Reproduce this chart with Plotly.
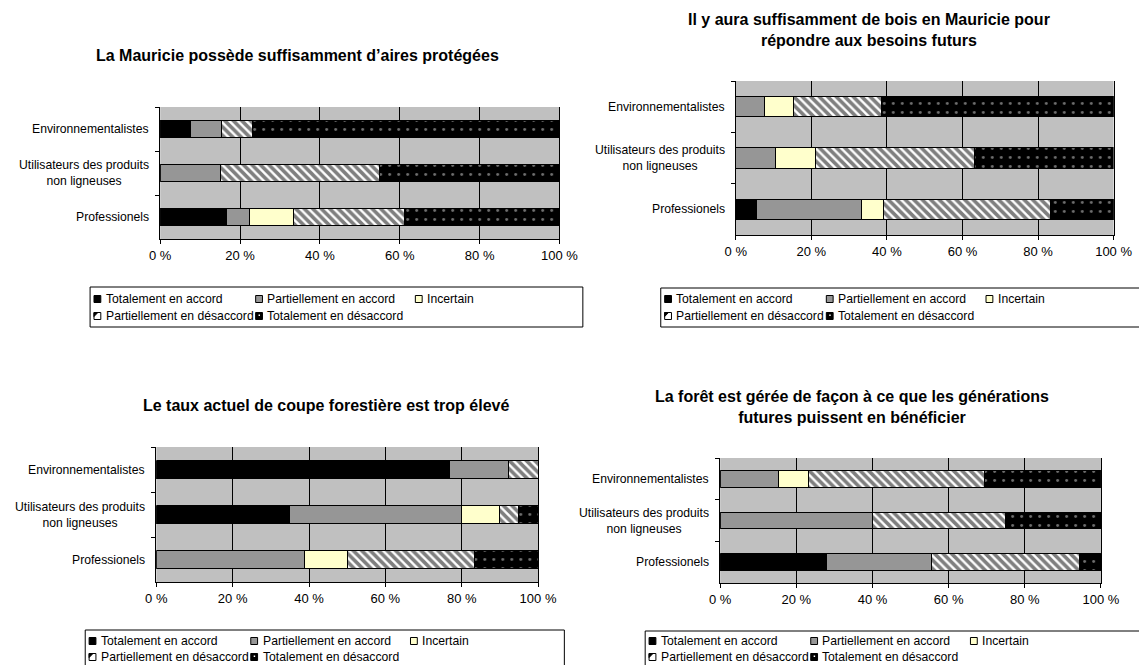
import plotly.graph_objects as go

W, H = 1147, 665
PAGE_OFFSET = 8  # the browser's default body margin shifts the figure by 8 px
FONT = "Liberation Sans, Arial, sans-serif"

# ---------------- data ----------------
categories = ["Environnementalistes", "Utilisateurs des produits<br>non ligneuses", "Professionels"]
series_names = ["Totalement en accord", "Partiellement en accord", "Incertain",
                "Partiellement en désaccord", "Totalement en désaccord"]
x_tick_values = [0, 20, 40, 60, 80, 100]
x_tick_labels = ["0 %", "20 %", "40 %", "60 %", "80 %", "100 %"]

titles = [
    "La Mauricie possède suffisamment d’aires protégées",
    "Il y aura suffisamment de bois en Mauricie pour<br>répondre aux besoins futurs",
    "Le taux actuel de coupe forestière est trop élevé",
    "La forêt est gérée de façon à ce que les générations<br>futures puissent en bénéficier",
]

# values in % for [Environnementalistes, Utilisateurs, Professionels]
aires_tot_accord = [7.7, 0.0, 16.7]
aires_part_accord = [7.7, 15.0, 5.6]
aires_incertain = [0.0, 0.0, 11.1]
aires_part_desaccord = [7.7, 40.0, 27.8]
aires_tot_desaccord = [76.9, 45.0, 38.9]

bois_tot_accord = [0.0, 0.0, 5.6]
bois_part_accord = [7.7, 10.5, 27.8]
bois_incertain = [7.7, 10.5, 5.6]
bois_part_desaccord = [23.1, 42.1, 44.4]
bois_tot_desaccord = [61.5, 36.8, 16.7]

coupe_tot_accord = [76.9, 35.0, 0.0]
coupe_part_accord = [15.4, 45.0, 38.9]
coupe_incertain = [0.0, 10.0, 11.1]
coupe_part_desaccord = [7.7, 5.0, 33.3]
coupe_tot_desaccord = [0.0, 5.0, 16.7]

foret_tot_accord = [0.0, 0.0, 27.8]
foret_part_accord = [15.4, 40.0, 27.8]
foret_incertain = [7.7, 0.0, 0.0]
foret_part_desaccord = [46.2, 35.0, 38.9]
foret_tot_desaccord = [30.8, 25.0, 5.5]

charts = [
    [aires_tot_accord, aires_part_accord, aires_incertain, aires_part_desaccord, aires_tot_desaccord],
    [bois_tot_accord, bois_part_accord, bois_incertain, bois_part_desaccord, bois_tot_desaccord],
    [coupe_tot_accord, coupe_part_accord, coupe_incertain, coupe_part_desaccord, coupe_tot_desaccord],
    [foret_tot_accord, foret_part_accord, foret_incertain, foret_part_desaccord, foret_tot_desaccord],
]

# ---------------- styles ----------------
series_markers = [
    dict(color="#000000", line=dict(color="#000000", width=1)),
    dict(color="#969696", line=dict(color="#000000", width=1)),
    dict(color="#FFFFCC", line=dict(color="#000000", width=1)),
    dict(color="#FFFFFF", line=dict(color="#000000", width=1),
         pattern=dict(shape="\\", bgcolor="#FFFFFF", fgcolor="#000000", size=6, solidity=0.6)),
    dict(color="#000000", line=dict(color="#000000", width=1),
         pattern=dict(shape=".", bgcolor="#000000", fgcolor="#E0E0E0", size=9, solidity=0.08)),
]

# panel geometry in page pixels
panels = [
    dict(px0=153, px1=563, py0=107, py1=239, tx=294, ty=55, lb=(81, 287, 587, 327), rows=(299, 316)),
    dict(px0=744, px1=1132, py0=81, py1=235, tx=881, ty=30, lb=(667, 288, 1170, 327), rows=(299, 316)),
    dict(px0=149, px1=541, py0=447, py1=582, tx=323, ty=405, lb=(76, 630, 568, 690), rows=(641, 657)),
    dict(px0=728, px1=1119, py0=458, py1=583, tx=863, ty=407, lb=(651, 631, 1170, 690), rows=(641, 657)),
]
legend_cols = [14, 180, 344]  # text x offsets from box left
legend_cells = [(0, 0), (0, 1), (0, 2), (1, 0), (1, 1)]  # (row, col) for each series


def fx(x):
    return (x - PAGE_OFFSET) / W


def fy(y):
    return 1 - (y - PAGE_OFFSET) / H


fig = go.Figure()
annotations = []
shapes = []
layout_axes = {}

for i, (p, values) in enumerate(zip(panels, charts)):
    n = "" if i == 0 else str(i + 1)
    for name, vals, mk in zip(series_names, values, series_markers):
        fig.add_trace(go.Bar(
            orientation="h", x=vals, y=categories, name=name,
            marker=mk, xaxis="x" + n, yaxis="y" + n, showlegend=False,
            hovertemplate="%{y}: %{x} %<extra>" + name + "</extra>",
        ))
    layout_axes["xaxis" + n] = dict(
        domain=[fx(p["px0"]), fx(p["px1"])], anchor="y" + n, range=[0, 100],
        tickmode="array", tickvals=x_tick_values, ticktext=x_tick_labels,
        showgrid=True, gridcolor="#000000", gridwidth=1, zeroline=False,
        showline=True, linecolor="#000000", linewidth=1,
        ticks="outside", ticklen=4, tickcolor="#000000", ticklabeloverflow="allow",
        tickfont=dict(family=FONT, size=13, color="#000000"), fixedrange=True,
    )
    layout_axes["yaxis" + n] = dict(
        domain=[fy(p["py1"]), fy(p["py0"])], anchor="x" + n, type="category",
        categoryorder="array", categoryarray=categories, autorange="reversed",
        showgrid=False, zeroline=False, showline=True, linecolor="#000000", linewidth=1,
        mirror=True, ticks="outside", ticklen=4, tickcolor="#000000", tickson="boundaries",
        showticklabels=False, fixedrange=True,
    )
    # category labels (centered multi-line, like the original)
    for c in categories:
        annotations.append(dict(
            xref="paper", yref="y" + n, x=fx(p["px0"]), y=c, xanchor="right", yanchor="middle",
            xshift=-9, text=c, align="center", showarrow=False,
            font=dict(family=FONT, size=12.2, color="#000000"),
        ))
    # title
    annotations.append(dict(
        xref="paper", yref="paper", x=fx(p["tx"]), y=fy(p["ty"]), xanchor="center", yanchor="middle",
        text=titles[i], showarrow=False, align="center",
        font=dict(family=FONT, size=16, color="#000000", weight="bold"),
    ))
    # legend box
    bx0, by0, bx1, by1 = p["lb"]
    shapes.append(dict(type="rect", xref="paper", yref="paper",
                       x0=fx(bx0), x1=fx(bx1), y0=fy(by0), y1=fy(by1),
                       line=dict(color="#000000", width=1), fillcolor="rgba(0,0,0,0)"))
    for k, (row, col) in enumerate(legend_cells):
        tx = bx0 + legend_cols[col]
        ty = p["rows"][row]
        sx0, sx1 = tx - 10, tx - 3
        sy0, sy1 = ty - 3.5, ty + 3.5
        if k in (0, 4):
            fill = "#000000"
        elif k == 1:
            fill = "#969696"
        elif k == 2:
            fill = "#FFFFCC"
        else:
            fill = "#FFFFFF"
        shapes.append(dict(type="rect", xref="paper", yref="paper",
                           x0=fx(sx0), x1=fx(sx1), y0=fy(sy0), y1=fy(sy1),
                           line=dict(color="#000000", width=1), fillcolor=fill))
        if k == 3:
            shapes.append(dict(type="path", xref="paper", yref="paper",
                               path=f"M {fx(sx0)},{fy(sy0)} L {fx(sx0 + 4)},{fy(sy0)} L {fx(sx0)},{fy(sy0 + 4)} Z",
                               line=dict(color="#000000", width=1), fillcolor="#000000"))
        if k == 4:
            shapes.append(dict(type="rect", xref="paper", yref="paper",
                               x0=fx(sx0 + 3), x1=fx(sx0 + 4.5), y0=fy(sy0 + 2), y1=fy(sy0 + 3.5),
                               line=dict(width=0), fillcolor="#FFFFFF"))
        annotations.append(dict(
            xref="paper", yref="paper", x=fx(tx), y=fy(ty), xanchor="left", yanchor="middle",
            text=series_names[k], showarrow=False,
            font=dict(family=FONT, size=12.2, color="#000000"),
        ))

fig.update_layout(
    width=W, height=H, margin=dict(l=0, r=0, t=0, b=0),
    paper_bgcolor="#FFFFFF", plot_bgcolor="#C0C0C0",
    barmode="stack", bargap=0.6, showlegend=False,
    font=dict(family=FONT, size=12, color="#000000"),
    annotations=annotations, shapes=shapes,
    **layout_axes,
)

fig.write_html("out.html")
